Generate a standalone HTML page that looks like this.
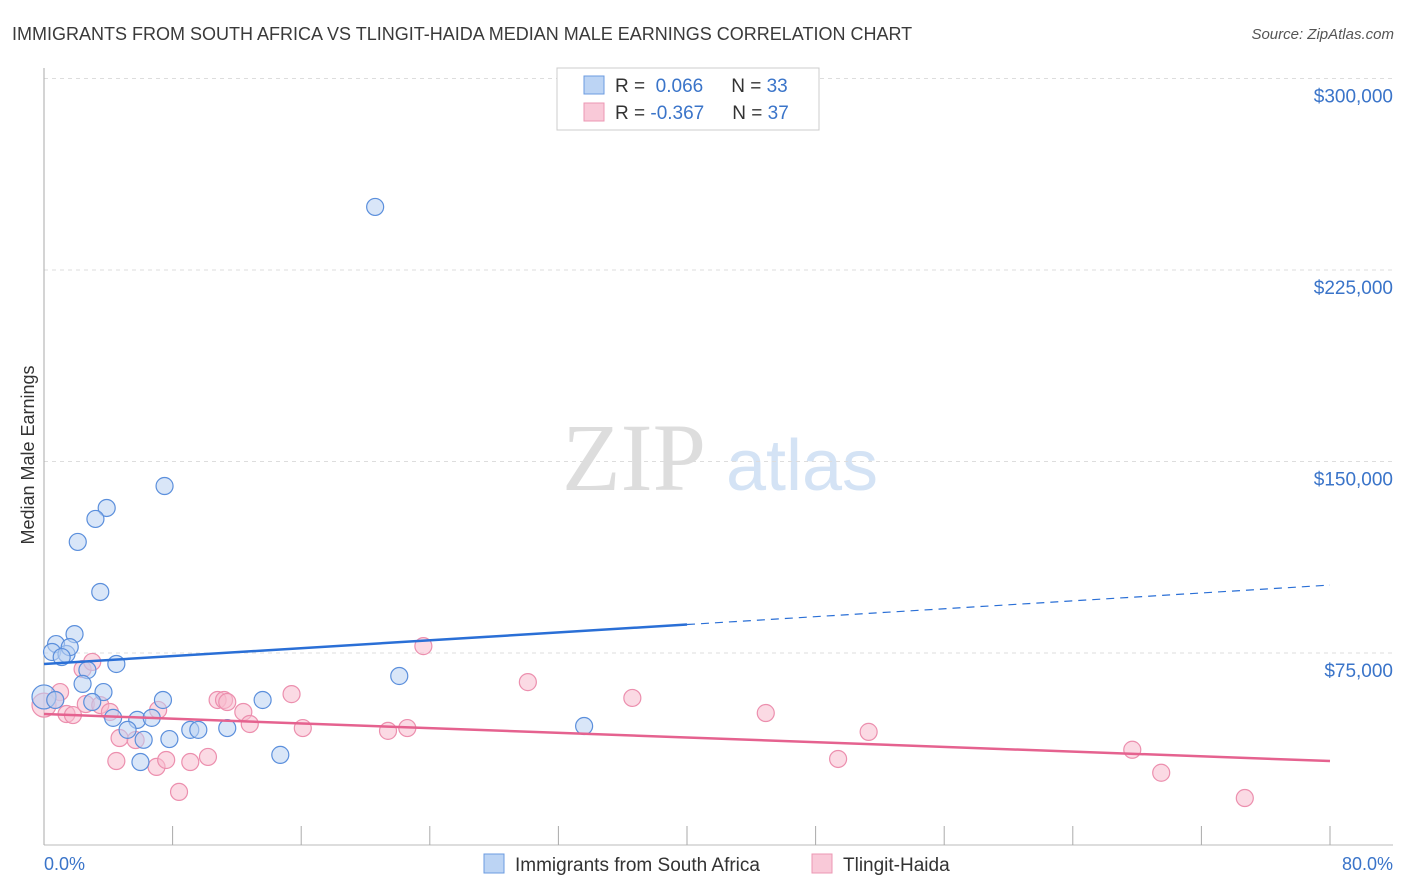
<!DOCTYPE html>
<html><head><meta charset="utf-8"><style>
body{margin:0;background:#fff;font-family:"Liberation Sans",sans-serif}
svg{display:block}
</style></head><body>
<svg width="1406" height="892" id="chart">
<text x="12" y="40" font-size="18" fill="#3a3a3a">IMMIGRANTS FROM SOUTH AFRICA VS TLINGIT-HAIDA MEDIAN MALE EARNINGS CORRELATION CHART</text>
<text x="1394" y="39" font-size="15" fill="#555" font-style="italic" text-anchor="end">Source: ZipAtlas.com</text>
<g>
<text x="634" y="490" font-size="96" fill="#ddd" font-family="Liberation Serif" text-anchor="middle">ZIP</text>
<text x="802" y="490" font-size="72" fill="#d4e3f5" text-anchor="middle">atlas</text>
</g>
<g id="grid"></g>
<g id="axes"></g>
<g id="marks"></g>
<text transform="translate(34,455) rotate(-90)" font-size="18" fill="#333" text-anchor="middle">Median Male Earnings</text>
<text x="44" y="870" font-size="18" fill="#3a74c9">0.0%</text>
<text x="1393" y="870" font-size="18" fill="#3a74c9" text-anchor="end">80.0%</text>
<g>
<rect x="557" y="68" width="262" height="62" fill="#fff" stroke="#ccc"/>
<rect x="584" y="76" width="20" height="18" fill="#bcd4f4" stroke="#6b9be0"/>
<rect x="584" y="103" width="20" height="18" fill="#f9c9d8" stroke="#ec97b3"/>
<text x="615" y="92" font-size="19" fill="#333">R = <tspan fill="#3a74c9">&#160;0.066</tspan><tspan dx="28">N = </tspan><tspan fill="#3a74c9">33</tspan></text>
<text x="615" y="119" font-size="19" fill="#333">R = <tspan fill="#3a74c9">-0.367</tspan><tspan dx="28">N = </tspan><tspan fill="#3a74c9">37</tspan></text>
</g>
<g>
<rect x="484" y="854" width="20" height="19" fill="#bcd4f4" stroke="#6b9be0"/>
<text x="515" y="871" font-size="19" fill="#333">Immigrants from South Africa</text>
<rect x="812" y="854" width="20" height="19" fill="#f9c9d8" stroke="#ec97b3"/>
<text x="843" y="871" font-size="19" fill="#333">Tlingit-Haida</text>
</g>
</svg>
<script>
const yTicks=[75000,150000,225000,300000];
const yTickLabels=["$75,000","$150,000","$225,000","$300,000"];
const xTicks=[0,8,16,24,32,40,48,56,64,72,80];
const blueX=[20.6,7.5,3.9,3.2,2.1,3.5,1.9,0.75,0.5,1.4,1.6,1.1,2.7,4.5,2.4,3.7,0,0.7,3.0,7.4,13.6,22.1,4.3,5.8,6.7,5.2,6.2,7.8,9.1,9.6,11.4,6.0,14.7,33.6];
const blueY=[249700,140400,131800,127500,118500,98900,82400,78500,75400,74600,77300,73400,68300,70700,62900,59700,57800,56600,55800,56600,56600,66000,49600,48800,49600,44900,41000,41300,44900,44900,45600,32300,35100,46400];
const pinkX=[0,1.0,0.7,1.4,1.8,2.4,3.0,2.6,3.5,4.1,4.7,4.5,5.7,7.1,7.0,7.6,8.4,9.1,10.2,10.8,11.2,11.4,12.4,12.8,15.4,16.1,21.4,22.6,23.6,30.1,36.6,44.9,49.4,51.3,67.7,69.5,74.7];
const pinkY=[54600,59700,56600,51100,50700,68700,71500,55000,54600,51900,41700,32700,40900,52700,30400,33100,20600,32300,34300,56600,56600,55800,51900,47200,58900,45600,44500,45600,77700,63600,57400,51500,33500,44100,37100,28100,18200];
const blueTrend=[70700,101600];
const pinkTrend=[51100,32700];
const NS="http://www.w3.org/2000/svg";
const X=v=>44+v/80*1286;
const Y=v=>844.5-v/75000*191.5;
function mk(tag,attrs,parent){const e=document.createElementNS(NS,tag);for(const k in attrs)e.setAttribute(k,attrs[k]);parent.appendChild(e);return e;}
const grid=document.getElementById('grid'),axes=document.getElementById('axes'),marks=document.getElementById('marks');
yTicks.forEach((t,i)=>{
 const l=mk('line',{x1:44,x2:1393,y1:Y(t),y2:Y(t),stroke:'#ddd','stroke-dasharray':'4,4'},grid);
 
 
 const tx=mk('text',{x:1393,y:Y(t)+24,'font-size':19,fill:'#3a74c9','text-anchor':'end'},grid);
 tx.textContent=yTickLabels[i];
 
 
});
const ya=mk('line',{x1:44,x2:44,y1:68,y2:845,stroke:'#aaa'},axes);


const xa=mk('line',{x1:44,x2:1393,y1:845,y2:845,stroke:'#bbb'},axes);


xTicks.forEach(t=>{
 const l=mk('line',{x1:X(t),x2:X(t),y1:826,y2:845,stroke:'#aaa'},axes);
 
 
});
function dots(xs,ys,fill,stroke,name){
 xs.forEach((x,i)=>{
  const c=mk('circle',{cx:X(x),cy:Y(ys[i]),r:(x===0?12:8.5),fill:fill,'fill-opacity':0.55,stroke:stroke,'stroke-width':1.2},marks);
  
  
 });
}
dots(pinkX,pinkY,'#f7bccd','#ec8fae','point-tlingit-haida');
dots(blueX,blueY,'#b9d2f2','#5b8fdc','point-south-africa');
const bm=blueTrend[0]+(blueTrend[1]-blueTrend[0])*0.5;
const b1=mk('line',{x1:X(0),y1:Y(blueTrend[0]),x2:X(40),y2:Y(bm),stroke:'#2a6fd6','stroke-width':2.5},marks);


const b2=mk('line',{x1:X(40),y1:Y(bm),x2:X(80),y2:Y(blueTrend[1]),stroke:'#2a6fd6','stroke-width':1.2,'stroke-dasharray':'8,6'},marks);


const p1=mk('line',{x1:X(0),y1:Y(pinkTrend[0]),x2:X(80),y2:Y(pinkTrend[1]),stroke:'#e5628f','stroke-width':2.5},marks);


</script>
</body></html>
